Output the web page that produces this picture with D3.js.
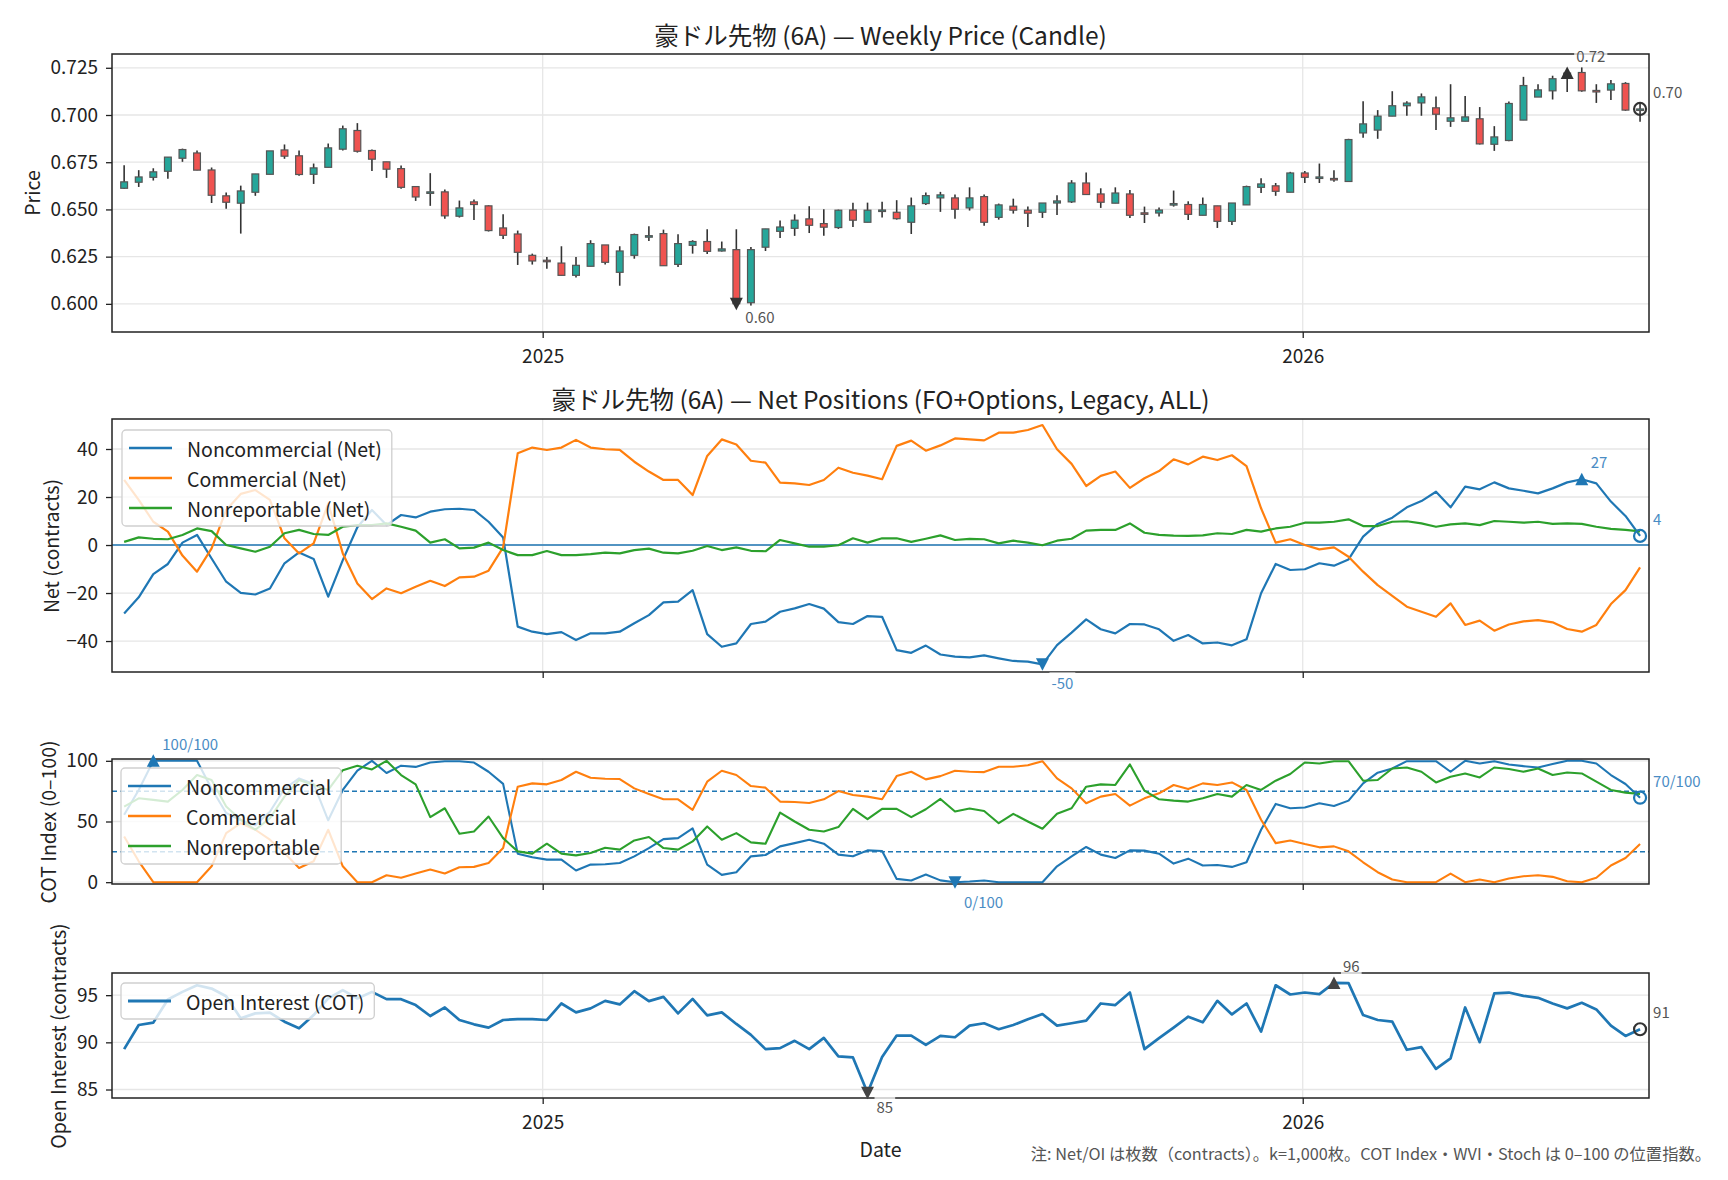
<!DOCTYPE html>
<html>
<head>
<meta charset="utf-8">
<script src="https://cdn.jsdelivr.net/npm/d3@7"></script>
<style>
  body { margin: 0; background: #fff; }
  text { font-family: 'Noto Sans CJK JP', 'Noto Sans', sans-serif; }
</style>
</head>
<body>
<svg id="chart" width="1728" height="1180"></svg>
<script>
// weekly dates (Fri)
const dates = ("2024-06-14 2024-06-21 2024-06-28 2024-07-05 2024-07-12 2024-07-19 2024-07-26 2024-08-02 2024-08-09 2024-08-16 2024-08-23 2024-08-30 2024-09-06 2024-09-13 2024-09-20 2024-09-27 2024-10-04 2024-10-11 2024-10-18 2024-10-25 2024-11-01 2024-11-08 2024-11-15 2024-11-22 2024-11-29 2024-12-06 2024-12-13 2024-12-20 2024-12-27 " +
  "2025-01-03 2025-01-10 2025-01-17 2025-01-24 2025-01-31 2025-02-07 2025-02-14 2025-02-21 2025-02-28 2025-03-07 2025-03-14 2025-03-21 2025-03-28 2025-04-04 2025-04-11 2025-04-18 2025-04-25 2025-05-02 2025-05-09 2025-05-16 2025-05-23 2025-05-30 2025-06-06 2025-06-13 2025-06-20 2025-06-27 2025-07-04 2025-07-11 2025-07-18 2025-07-25 2025-08-01 2025-08-08 2025-08-15 2025-08-22 2025-08-29 2025-09-05 2025-09-12 2025-09-19 2025-09-26 2025-10-03 2025-10-10 2025-10-17 2025-10-24 2025-10-31 2025-11-07 2025-11-14 2025-11-21 2025-11-28 2025-12-05 2025-12-12 2025-12-19 2025-12-26 " +
  "2026-01-02 2026-01-09 2026-01-16 2026-01-23 2026-01-30 2026-02-06 2026-02-13 2026-02-20 2026-02-27 2026-03-06 2026-03-13 2026-03-20 2026-03-27 2026-04-03 2026-04-10 2026-04-17 2026-04-24 2026-05-01 2026-05-08 2026-05-15 2026-05-22 2026-05-29 2026-06-05 2026-06-12").split(" ");

const priceOpen = [.6612,.6644,.6670,.6702,.6771,.6799,.6709,.6572,.6533,.6591,.6686,.6815,.6784,.6686,.6723,.6819,.6918,.6812,.6752,.6716,.6621,.6586,.6593,.6464,.6540,.6519,.6402,.6370,
  .6257,.6231,.6216,.6151,.6199,.6312,.6167,.6257,.6354,.6372,.6209,.6310,.6330,.6280,.6287,.6006,.6300,.6384,.6400,.6450,.6425,.6404,.6497,.6432,.6490,.6485,.6432,
  .6531,.6561,.6561,.6508,.6568,.6458,.6517,.6496,.6485,.6534,.6540,.6640,.6582,.6533,.6582,.6482,.6481,.6524,.6526,.6469,.6519,.6437,.6524,.6617,.6625,.6591,.6693,
  .6668,.6664,.6648,.6905,.6920,.6994,.7049,.7064,.7038,.6967,.6967,.6980,.6845,.6865,.6973,.7095,.7128,.7195,.7225,.7130,.7132,.7167,.7030];
const priceHigh = [.6734,.6708,.6718,.6777,.6822,.6812,.6722,.6589,.6626,.6688,.6810,.6844,.6812,.6743,.6849,.6944,.6957,.6817,.6752,.6732,.6621,.6692,.6605,.6547,.6552,.6522,.6474,.6388,
  .6266,.6248,.6305,.6248,.6337,.6312,.6305,.6372,.6411,.6393,.6368,.6337,.6395,.6330,.6395,.6301,.6397,.6441,.6474,.6517,.6501,.6499,.6536,.6536,.6541,.6549,.6563,
  .6589,.6593,.6579,.6617,.6579,.6531,.6557,.6515,.6534,.6575,.6655,.6695,.6612,.6617,.6603,.6515,.6510,.6600,.6543,.6563,.6519,.6534,.6626,.6665,.6640,.6699,.6704,
  .6743,.6708,.6874,.7073,.7026,.7126,.7073,.7114,.7098,.7163,.7100,.7042,.6941,.7072,.7202,.7163,.7208,.7230,.7252,.7163,.7185,.7174,.7060];
const priceLow = [.6610,.6619,.6653,.6662,.6752,.6708,.6534,.6503,.6372,.6572,.6686,.6768,.6678,.6635,.6723,.6812,.6801,.6704,.6667,.6609,.6545,.6519,.6450,.6457,.6444,.6383,.6344,.6206,
  .6208,.6186,.6151,.6139,.6199,.6208,.6096,.6239,.6333,.6202,.6195,.6266,.6264,.6277,.5992,.5990,.6280,.6349,.6360,.6375,.6360,.6397,.6407,.6432,.6457,.6446,.6370,
  .6524,.6487,.6451,.6494,.6414,.6446,.6478,.6407,.6455,.6471,.6534,.6579,.6508,.6533,.6455,.6428,.6462,.6515,.6444,.6469,.6402,.6418,.6524,.6587,.6572,.6591,.6640,
  .6640,.6646,.6648,.6879,.6874,.6994,.6996,.6996,.6921,.6937,.6967,.6844,.6810,.6861,.6973,.7095,.7082,.7122,.7123,.7064,.7080,.7022,.6964];
const priceClose = [.6646,.6672,.6699,.6777,.6817,.6708,.6575,.6538,.6598,.6688,.6810,.6782,.6685,.6720,.6826,.6927,.6808,.6766,.6713,.6617,.6566,.6593,.6466,.6508,.6526,.6388,.6363,.6273,
  .6227,.6224,.6151,.6204,.6319,.6220,.6280,.6367,.6361,.6202,.6319,.6330,.6278,.6291,.6001,.6287,.6397,.6407,.6443,.6416,.6406,.6496,.6443,.6496,.6497,.6451,.6519,
  .6573,.6577,.6501,.6561,.6432,.6524,.6496,.6480,.6534,.6545,.6640,.6579,.6538,.6587,.6469,.6479,.6497,.6531,.6474,.6526,.6437,.6534,.6621,.6635,.6596,.6693,.6670,
  .6672,.6662,.6870,.6953,.6994,.7049,.7063,.7096,.7004,.6985,.6990,.6847,.6884,.7061,.7156,.7133,.7192,.7222,.7128,.7126,.7165,.7026,.7032];

// net positions, k contracts
const netNoncomm = [-28.5,-21.8,-12.1,-7.9,1.0,4.2,-5.6,-15.3,-19.9,-20.6,-18.1,-7.6,-3.1,-5.8,-21.5,-6.3,7.4,14.6,8.3,12.5,11.5,13.9,14.9,15.1,14.6,9.7,3.1,-34.0,-36.1,-37.1,-36.3,-39.6,-36.8,-36.8,-36.1,-32.6,-29.2,
  -23.9,-23.6,-18.8,-37.1,-42.4,-41.0,-32.9,-31.9,-27.8,-26.4,-24.6,-26.5,-32.1,-32.9,-29.6,-29.9,-43.8,-44.9,-41.9,-45.6,-46.5,-46.8,-46.0,-47.2,-48.3,-48.6,-49.7,-41.7,-36.5,-31.0,-35.1,-36.8,-32.9,-33.1,-35.1,-39.9,-37.5,
  -41.0,-40.6,-41.8,-39.3,-20.1,-7.9,-10.4,-10.1,-7.6,-8.6,-6.0,3.5,8.8,11.4,15.7,18.3,22.2,15.7,24.3,23.2,26.1,23.6,22.6,21.5,23.6,26.1,27.4,25.7,18.1,12.1,3.8];
const netComm = [27.1,18.8,9.7,5.6,-4.4,-11.1,-1.4,14.6,21.3,22.9,18.8,2.8,-3.5,0.7,17.3,-3.5,-16.0,-22.5,-18.1,-20.1,-17.4,-14.9,-17.1,-13.5,-13.2,-10.7,-1.0,38.2,40.6,39.6,40.6,43.8,40.6,39.9,39.6,34.7,30.6,
  27.1,27.1,20.8,37.1,44.0,41.9,35.1,34.3,26.0,25.7,25.0,27.1,32.2,30.1,28.9,27.4,41.3,43.5,39.3,41.5,44.4,44.0,43.6,46.8,46.8,47.9,50.0,39.9,33.8,24.6,28.8,30.6,23.8,27.8,30.8,35.7,33.6,
  36.8,35.4,37.4,32.9,15.3,1.0,2.4,0.0,-1.8,-1.0,-4.9,-11.1,-16.7,-21.2,-25.7,-27.8,-29.9,-24.3,-33.3,-31.5,-35.7,-33.1,-31.8,-31.3,-32.2,-35.0,-36.1,-33.3,-24.6,-18.8,-9.3];
const netNonrep = [1.3,3.2,2.6,2.4,4.2,6.9,5.8,0.0,-1.4,-2.8,-0.7,4.9,6.3,4.6,4.2,7.6,8.3,8.3,9.0,7.6,6.0,1.0,2.4,-1.4,-1.1,1.0,-2.1,-4.2,-4.2,-2.5,-4.2,-4.2,-3.8,-3.2,-3.5,-2.1,-1.5,
  -3.2,-3.5,-2.4,-0.4,-2.1,-1.0,-2.4,-2.6,2.1,0.7,-0.7,-0.7,-0.1,2.8,1.0,2.8,2.8,1.3,2.6,4.0,2.1,2.6,2.4,0.7,1.8,1.0,-0.1,1.8,2.6,6.0,6.3,6.3,9.0,5.1,4.2,3.9,3.8,
  4.0,4.9,4.6,6.3,5.6,6.9,7.6,9.3,9.3,9.7,10.7,7.9,7.9,9.7,9.9,9.0,7.6,8.6,9.0,8.3,10.0,9.7,9.3,9.7,8.8,9.0,8.8,7.6,6.7,6.3,5.7];

// COT index 0-100
const cotNoncomm = [55.5,76,100,100,100,100,77,57,51,47,58,77,85.5,81,51,76,92,100,90,96,95,98.6,99.7,99.7,98.6,91,81,23.5,20.5,18.6,18.6,9.6,14.5,14.8,15.8,21.3,28.1,35.5,36.3,44.3,14.5,6.0,8.2,21.3,22.4,29.5,32.2,35.0,31.7,22.7,21.3,26.2,25.7,2.7,1.4,
  6.3,1.5,0,0.5,1.4,0,0,0,0,13.1,21.3,29.0,22.7,19.9,26.2,26.0,23.5,15.3,19.4,13.7,14.2,12.6,16.4,43.2,64.5,60.9,61.5,65.0,62.8,67.2,81.4,90.2,93.7,99.7,99.7,99.7,91.0,100,97.8,99.7,97.0,95.6,94.5,97.3,100,100,97.8,88.3,80.9,69.6];
const cotComm = [37.7,17.2,0,0,0,0,13.1,40.4,48.6,43.2,35.0,24.0,11.7,17.2,43.2,13.1,0,0,5.7,3.6,7.1,10.4,7.1,12.3,12.6,15.8,28.1,78.7,81.4,80.6,84.2,91.0,86.1,85.2,85.0,77.3,72.7,68.3,68.3,59.6,82.8,91.8,88.3,79.2,77.9,66.4,66.1,65.3,68.3,75.1,71.9,70.5,68.3,87.4,91.0,
  84.7,87.4,91.8,91.0,90.7,95.1,95.1,96.4,99.7,85.5,77.3,65.0,70.5,72.7,63.1,69.1,73.2,80.1,76.8,81.4,80.1,82.2,76.0,51.4,32.2,34.4,31.4,28.7,29.5,25.4,16.4,8.2,2.2,0,0,0,7.1,0,2.2,0,3.0,4.9,5.7,4.4,0.8,0,3.6,13.7,19.9,31.4];
const cotNonrep = [62.3,69.1,67.8,66.4,76.0,88.3,84.2,62.3,51.4,43.2,52.7,70.5,84.2,80.1,76.0,92.3,95.9,92.9,100,88.3,80.6,53.6,60.9,39.9,41.8,54.1,36.3,25.4,23.5,31.7,23.5,22.1,24.0,28.4,26.8,34.4,37.2,28.1,26.8,33.6,45.9,35.0,40.4,32.8,31.7,57.4,50.0,43.2,41.8,45.4,60.4,51.9,60.4,60.4,53.6,
  60.1,68.6,58.2,60.7,58.7,48.6,56.3,50.0,44.0,56.3,60.9,78.7,80.6,80.1,97.0,75.4,68.3,67.2,66.4,69.1,72.7,70.5,80.1,76.0,83.6,89.1,98.6,97.8,99.7,99.7,83.6,84.2,93.7,94.5,91.0,82.2,86.9,89.6,86.3,94.5,93.2,91.0,93.7,88.3,90.4,89.6,82.8,76.0,73.8,72.7];

// open interest, k contracts
const openInterest = [89.28,91.84,92.09,94.54,95.35,96.05,95.70,94.89,92.54,93.07,93.14,92.19,91.49,92.89,94.65,95.53,94.65,95.35,94.58,94.58,93.95,92.79,93.70,92.37,91.91,91.56,92.37,92.47,92.47,92.37,94.12,93.18,93.60,94.40,94.02,95.42,94.37,94.82,93.07,94.61,92.86,93.18,91.95,90.79,89.28,89.39,90.16,89.28,90.47,88.51,88.40,84.65,88.44,90.72,90.72,
  89.74,90.68,90.54,91.77,92.02,91.39,91.84,92.44,93.00,91.77,92.02,92.30,94.12,93.95,95.28,89.28,90.44,91.56,92.72,92.12,94.40,92.96,94.12,91.14,96.05,95.07,95.28,95.11,96.30,96.28,92.89,92.37,92.19,89.21,89.49,87.18,88.30,93.70,90.02,95.18,95.28,94.93,94.72,94.12,93.60,94.19,93.49,91.77,90.68,91.39];

const priceTicks = [0.600, 0.625, 0.650, 0.675, 0.700, 0.725];
const netTicks = [-40, -20, 0, 20, 40];
const cotTicks = [0, 50, 100];
const oiTicks = [85, 90, 95];
const yearTicks = [new Date("2025-01-01"), new Date("2026-01-01")];

const W = 1728, H = 1180;
const L = 112, R = 1649;
const FONT = "'Noto Sans CJK JP', 'Noto Sans', sans-serif";
const BLUE = '#1f77b4', ORANGE = '#ff7f0e', GREEN = '#2ca02c';

const svg = d3.select('#chart');
svg.append('rect').attr('width', W).attr('height', H).attr('fill', '#fff');

const weeks = dates.map((d, i) => ({
  date: new Date(d),
  o: priceOpen[i], h: priceHigh[i], l: priceLow[i], c: priceClose[i],
  nc: netNoncomm[i], cm: netComm[i], nr: netNonrep[i],
  ic: cotNoncomm[i], im: cotComm[i], ir: cotNonrep[i],
  oi: openInterest[i]
}));

const x = d3.scaleUtc()
  .domain([new Date("2024-06-08T04:00Z"), new Date("2026-06-16T07:00Z")])
  .range([L, R]);

const makePanel = (top, bottom, yDomain, yTicks, fmt, xLabels) => {
  const y = d3.scaleLinear().domain(yDomain).range([bottom, top]);
  const g = svg.append('g');
  g.append('g').selectAll('line').data(yTicks).join('line')
    .attr('x1', L).attr('x2', R)
    .attr('y1', d => y(d)).attr('y2', d => y(d))
    .attr('stroke', '#e6e6e6').attr('stroke-width', 1.3);
  g.append('g').selectAll('line').data(yearTicks).join('line')
    .attr('x1', d => x(d)).attr('x2', d => x(d))
    .attr('y1', top).attr('y2', bottom)
    .attr('stroke', '#e6e6e6').attr('stroke-width', 1.3);

  const yAxisG = g.append('g')
    .attr('transform', `translate(${L},0)`)
    .call(d3.axisLeft(y).tickValues(yTicks).tickFormat(fmt).tickSize(6).tickPadding(8));
  const xAxisG = g.append('g')
    .attr('transform', `translate(0,${bottom})`)
    .call(d3.axisBottom(x).tickValues(yearTicks)
      .tickFormat(xLabels ? d3.utcFormat('%Y') : '').tickSize(6).tickPadding(12));
  [yAxisG, xAxisG].forEach(a => {
    a.select('.domain').remove();
    a.attr('font-family', FONT).attr('font-size', 19).attr('color', '#222');
    a.selectAll('.tick line').attr('stroke-width', 1.3);
  });
  return { g, y, top, bottom };
};

const frame = p => p.g.append('rect')
  .attr('x', L).attr('y', p.top)
  .attr('width', R - L).attr('height', p.bottom - p.top)
  .attr('fill', 'none').attr('stroke', '#222').attr('stroke-width', 1.5);

const drawLine = (p, key, color, width) => p.g.append('path')
  .datum(weeks)
  .attr('fill', 'none').attr('stroke', color).attr('stroke-width', width)
  .attr('stroke-linejoin', 'round')
  .attr('d', d3.line().x(d => x(d.date)).y(d => p.y(d[key])));

const legend = (p, bx, by, rowH, items) => {
  const lg = p.g.append('g');
  const box = lg.append('rect').attr('x', bx).attr('y', by).attr('rx', 4)
    .attr('fill', '#fff').attr('fill-opacity', 0.8)
    .attr('stroke', '#cfcfcf').attr('stroke-width', 1.3);
  let maxW = 0;
  items.forEach((it, i) => {
    const cy = by + 18 + i * rowH;
    lg.append('line').attr('x1', bx + 7).attr('x2', bx + 50).attr('y1', cy).attr('y2', cy)
      .attr('stroke', it.color).attr('stroke-width', it.width);
    const t = lg.append('text').attr('x', bx + 65).attr('y', cy)
      .attr('dominant-baseline', 'central').attr('font-size', 19.5).attr('fill', '#222')
      .text(it.label);
    maxW = Math.max(maxW, t.node().getComputedTextLength());
  });
  box.attr('width', maxW + 75).attr('height', 36 + (items.length - 1) * rowH);
};

// marker + value label (max / min / last)
const note = (p, px, py, txt, kind, color, textColor, minDy = 16.5) => {
  const s = 6.5;
  if (kind === 'max') {
    p.g.append('path').attr('d', `M${px},${py - s} L${px + s},${py + s - 0.5} L${px - s},${py + s - 0.5} Z`).attr('fill', color);
  } else if (kind === 'min') {
    p.g.append('path').attr('d', `M${px},${py + s} L${px + s},${py - s + 0.5} L${px - s},${py - s + 0.5} Z`).attr('fill', color);
  } else {
    p.g.append('circle').attr('cx', px).attr('cy', py).attr('r', 6)
      .attr('fill', 'none').attr('stroke', color).attr('stroke-width', 2.2);
  }
  const tx = px + (kind === 'last' ? 13 : 9);
  const ty = kind === 'min' ? py + minDy : py - 17.5;
  const bg = p.g.append('rect');
  const t = p.g.append('text').attr('x', tx).attr('y', ty)
    .attr('dominant-baseline', 'central').attr('font-size', 15).attr('fill', textColor)
    .text(txt);
  const bb = t.node().getBBox();
  bg.attr('x', bb.x - 2).attr('y', bb.y).attr('width', bb.width + 4).attr('height', bb.height)
    .attr('fill', '#fff').attr('fill-opacity', 0.75);
};

const extremes = key => {
  const iMax = d3.maxIndex(weeks, d => d[key]);
  const iMin = d3.minIndex(weeks, d => d[key]);
  return [weeks[iMax], weeks[iMin], weeks[weeks.length - 1]];
};

const yLabel = (text, cx, cy) => svg.append('text')
  .attr('transform', `translate(${cx},${cy}) rotate(-90)`)
  .attr('text-anchor', 'middle').attr('dominant-baseline', 'central')
  .attr('font-size', 19.5).attr('fill', '#222').text(text);

const title = (text, cy) => svg.append('text')
  .attr('x', (L + R) / 2).attr('y', cy)
  .attr('text-anchor', 'middle').attr('dominant-baseline', 'central')
  .attr('font-size', 24.5).attr('fill', '#222').text(text);

// ---- price (candles)
const pp = makePanel(54, 332, [0.5851, 0.7323], priceTicks, d3.format('.3f'), true);
const bodyW = 6.8;
pp.g.append('g').selectAll('line').data(weeks).join('line')
  .attr('x1', d => x(d.date)).attr('x2', d => x(d.date))
  .attr('y1', d => pp.y(d.h)).attr('y2', d => pp.y(d.l))
  .attr('stroke', '#333').attr('stroke-width', 1.6);
pp.g.append('g').selectAll('rect').data(weeks).join('rect')
  .attr('x', d => x(d.date) - bodyW / 2)
  .attr('y', d => pp.y(Math.max(d.o, d.c)))
  .attr('width', bodyW)
  .attr('height', d => Math.max(1.5, Math.abs(pp.y(d.o) - pp.y(d.c))))
  .attr('fill', d => d.c >= d.o ? '#26a69a' : '#ef5350')
  .attr('stroke', '#555').attr('stroke-width', 1.2);
frame(pp);
{
  const [hi, lo, last] = extremes('c');
  note(pp, x(hi.date), pp.y(hi.c), hi.c.toFixed(2), 'max', '#333', '#555');
  note(pp, x(lo.date), pp.y(lo.c), lo.c.toFixed(2), 'min', '#333', '#555', 12.5);
  note(pp, x(last.date), pp.y(last.c), last.c.toFixed(2), 'last', '#333', '#555');
}
title('豪ドル先物 (6A) — Weekly Price (Candle)', 34);
yLabel('Price', 31, 193);

// ---- net positions
const np = makePanel(419, 672, [-52.9, 52.5], netTicks, d3.format('d'), false);
np.g.append('line').attr('x1', L).attr('x2', R).attr('y1', np.y(0)).attr('y2', np.y(0))
  .attr('stroke', BLUE).attr('stroke-width', 1.4);
drawLine(np, 'nc', BLUE, 2.2);
drawLine(np, 'cm', ORANGE, 2.2);
drawLine(np, 'nr', GREEN, 2.2);
legend(np, 122, 430, 30, [
  { label: 'Noncommercial (Net)', color: BLUE, width: 2.4 },
  { label: 'Commercial (Net)', color: ORANGE, width: 2.4 },
  { label: 'Nonreportable (Net)', color: GREEN, width: 2.4 }
]);
frame(np);
{
  const [hi, lo, last] = extremes('nc');
  note(np, x(hi.date), np.y(hi.nc), String(Math.round(hi.nc)), 'max', BLUE, '#4a8cc4');
  note(np, x(lo.date), np.y(lo.nc), String(Math.round(lo.nc)), 'min', BLUE, '#4a8cc4', 18.5);
  note(np, x(last.date), np.y(last.nc), String(Math.round(last.nc)), 'last', BLUE, '#4a8cc4');
}
title('豪ドル先物 (6A) — Net Positions (FO+Options, Legacy, ALL)', 398);
yLabel('Net (contracts)', 50, 546);

// ---- COT index
const cp = makePanel(759, 884, [-1.5, 101.5], cotTicks, d3.format('d'), false);
[25, 75].forEach(v => cp.g.append('line')
  .attr('x1', L).attr('x2', R).attr('y1', cp.y(v)).attr('y2', cp.y(v))
  .attr('stroke', BLUE).attr('stroke-width', 1.5).attr('stroke-dasharray', '5,3'));
drawLine(cp, 'ic', BLUE, 2.1);
drawLine(cp, 'im', ORANGE, 2.1);
drawLine(cp, 'ir', GREEN, 2.1);
legend(cp, 121, 768, 30, [
  { label: 'Noncommercial', color: BLUE, width: 2.4 },
  { label: 'Commercial', color: ORANGE, width: 2.4 },
  { label: 'Nonreportable', color: GREEN, width: 2.4 }
]);
frame(cp);
{
  const [hi, lo, last] = extremes('ic');
  note(cp, x(hi.date), cp.y(hi.ic), `${Math.round(hi.ic)}/100`, 'max', BLUE, '#4a8cc4');
  note(cp, x(lo.date), cp.y(lo.ic), `${Math.round(lo.ic)}/100`, 'min', BLUE, '#4a8cc4', 19);
  note(cp, x(last.date), cp.y(last.ic), `${Math.round(last.ic)}/100`, 'last', BLUE, '#4a8cc4');
}
yLabel('COT Index (0–100)', 47, 822);

// ---- open interest
const op = makePanel(973, 1098, [84.1, 97.35], oiTicks, d3.format('d'), true);
drawLine(op, 'oi', BLUE, 2.7);
legend(op, 121, 983, 30, [{ label: 'Open Interest (COT)', color: BLUE, width: 2.8 }]);
frame(op);
{
  const [hi, lo, last] = extremes('oi');
  note(op, x(hi.date), op.y(hi.oi), String(Math.round(hi.oi)), 'max', '#444', '#555');
  note(op, x(lo.date), op.y(lo.oi), String(Math.round(lo.oi)), 'min', '#444', '#555', 14);
  note(op, x(last.date), op.y(last.oi), String(Math.round(last.oi)), 'last', '#333', '#555');
}
yLabel('Open Interest (contracts)', 57, 1036);

svg.append('text').attr('x', (L + R) / 2).attr('y', 1148)
  .attr('text-anchor', 'middle').attr('dominant-baseline', 'central')
  .attr('font-size', 19.5).attr('fill', '#222').text('Date');

svg.append('text').attr('x', 1711).attr('y', 1153)
  .attr('text-anchor', 'end').attr('dominant-baseline', 'central')
  .attr('font-size', 16.3).attr('fill', '#555')
  .text('注: Net/OI は枚数（contracts）。k=1,000枚。COT Index・WVI・Stoch は 0–100 の位置指数。');
</script>
</body>
</html>
